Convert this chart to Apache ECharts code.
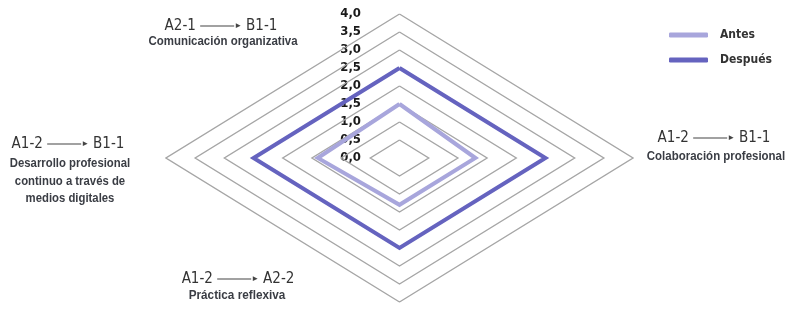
<!DOCTYPE html>
<html><head><meta charset="utf-8">
<script src="https://cdn.jsdelivr.net/npm/echarts@6/dist/echarts.min.js"></script>
<style>html,body{margin:0;padding:0;background:#fff}#c{width:795px;height:314px}</style>
</head><body><div id="c"></div>
<script>
// Indicators in order: top, right, bottom, left
const indicators = ['Comunicación organizativa','Colaboración profesional','Práctica reflexiva','Desarrollo profesional\ncontinuo a través de\nmedios digitales'];
const transitions = [['A2-1','B1-1'],['A1-2','B1-1'],['A1-2','A2-2'],['A1-2','B1-1']];
const antes = [1.5, 1.3, 1.3, 1.4];
const despues = [2.5, 2.5, 2.5, 2.5];
const levels = [0.5, 1.0, 1.5, 2.0, 2.5, 3.0, 3.5, 4.0];
const tickLabels = ['0,0','0,5','1,0','1,5','2,0','2,5','3,0','3,5','4,0'];
const seriesNames = ['Antes','Después'];

const FONT = "'DejaVu Sans Condensed',sans-serif";
const SUBFONT = "'Liberation Sans',Arial,sans-serif";
const toPoly = v => [[0, v[0]], [v[1], 0], [0, -v[2]], [-v[3], 0], [0, v[0]]];

const series = [];
levels.forEach(l => series.push({
  type: 'line', name: 'ring' + l, data: toPoly([l, l, l, l]), symbol: 'none', silent: true,
  lineStyle: { color: '#a6a6a6', width: 1.4, join: 'miter' }, z: 1, animation: false
}));
series.push({ type: 'line', name: seriesNames[0], data: toPoly(antes), symbol: 'none', color: '#a8a6dc',
  lineStyle: { color: '#a8a6dc', width: 4, join: 'miter' }, z: 3, animation: false });
series.push({ type: 'line', name: seriesNames[1], data: toPoly(despues), symbol: 'none', color: '#6563bf',
  lineStyle: { color: '#6563bf', width: 4, join: 'miter' }, z: 4, animation: false });

const arrowRich = {
  ln: { width: 34, height: 1, backgroundColor: '#444' },
  ah: { fontSize: 8, fill: '#444', padding: [0, 4, 0, 0] }
};
function head(t) { return t[0] + ' {ln|}{ah|►}' + t[1]; }
function txt(x, y, text, opt, sx) {
  return { type: 'text', x: x, y: y, scaleX: sx || 1, style: Object.assign({ text: text, align: 'center', verticalAlign: 'middle', font: '15px ' + FONT, fill: '#333', rich: arrowRich }, opt || {}) };
}
const sub = { font: 'bold 13.5px ' + SUBFONT, fill: '#3a3d44', lineHeight: 17.5 };

const chart = echarts.init(document.getElementById('c'), null, { renderer: 'canvas' });
chart.setOption({
  animation: false,
  grid: { left: 166, right: 162, top: 14, bottom: 12 },
  xAxis: { type: 'value', min: -4, max: 4, show: false },
  yAxis: { type: 'value', min: -4, max: 4, interval: 0.5, offset: -233, position: 'left',
    axisLine: { show: false }, axisTick: { show: false }, splitLine: { show: false },
    axisLabel: { margin: 38, fontFamily: FONT, fontWeight: 'bold', fontSize: 13, color: '#1a1a1a',
      formatter: v => v >= 0 ? tickLabels[Math.round(v / 0.5)] : '' } },
  legend: { data: seriesNames, orient: 'vertical', left: 669, top: 28, padding: 0, icon: 'roundRect', itemWidth: 39, itemHeight: 5, itemGap: 11,
    textStyle: { fontFamily: FONT, fontWeight: 'bold', fontSize: 12, color: '#333', lineHeight: 14, padding: [0, 0, 0, 7] } },
  series: series,
  graphic: [
    txt(221, 26, head(transitions[0])),
    txt(223, 41, indicators[0], sub, 0.85),
    txt(714, 138, head(transitions[1])),
    txt(716, 156, indicators[1], sub, 0.85),
    txt(238, 279, head(transitions[2])),
    txt(237, 295, indicators[2], sub, 0.87),
    txt(68, 144, head(transitions[3])),
    txt(70, 181, indicators[3], sub, 0.84)
  ]
});
</script></body></html>
